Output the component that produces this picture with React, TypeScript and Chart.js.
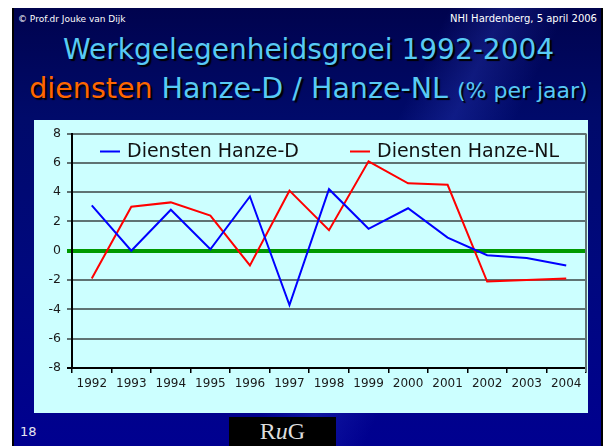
import React, { useEffect, useRef } from "react";
import { Chart, registerables } from "chart.js";

Chart.register(...registerables);

const categories = ["1992", "1993", "1994", "1995", "1996", "1997", "1998", "1999", "2000", "2001", "2002", "2003", "2004"];
const hanzeD = [3.1, 0.0, 2.8, 0.1, 3.7, -3.7, 4.2, 1.5, 2.9, 0.9, -0.3, -0.5, -1.0];
const hanzeNL = [-1.9, 3.0, 3.3, 2.4, -1.0, 4.1, 1.4, 6.1, 4.6, 4.5, -2.1, -2.0, -1.9];
const seriesNames = ["Diensten Hanze-D", "Diensten Hanze-NL"];
const yMin = -8;
const yMax = 8;
const yStep = 2;

const FONT = "'DejaVu Sans', Verdana, sans-serif";

const legendPlugin = {
  id: "insideLegend",
  afterDatasetsDraw(chart: any) {
    const { ctx, chartArea } = chart;
    const y = chartArea.top + 18;
    const items = [
      { x: chartArea.left + 28, color: "#0000ff", text: seriesNames[0] },
      { x: chartArea.left + 278, color: "#ff0000", text: seriesNames[1] },
    ];
    ctx.save();
    ctx.font = `19px ${FONT}`;
    ctx.textBaseline = "middle";
    items.forEach((it) => {
      ctx.strokeStyle = it.color;
      ctx.lineWidth = 2;
      ctx.beginPath();
      ctx.moveTo(it.x, y);
      ctx.lineTo(it.x + 20, y);
      ctx.stroke();
      ctx.fillStyle = "#111111";
      ctx.fillText(it.text, it.x + 27, y + 1);
    });
    // right border of plot
    ctx.strokeStyle = "#5f7373";
    ctx.lineWidth = 2;
    ctx.beginPath();
    ctx.moveTo(chartArea.right, chartArea.top);
    ctx.lineTo(chartArea.right, chartArea.bottom + 4);
    ctx.stroke();
    ctx.restore();
  },
};

function LineChart() {
  const ref = useRef<HTMLCanvasElement | null>(null);
  useEffect(() => {
    if (!ref.current) return;
    const chart = new Chart(ref.current, {
      type: "line",
      data: {
        labels: categories,
        datasets: [
          {
            label: seriesNames[0],
            data: hanzeD,
            borderColor: "#0000ff",
            borderWidth: 2,
            pointRadius: 0,
            tension: 0,
            fill: false,
          },
          {
            label: seriesNames[1],
            data: hanzeNL,
            borderColor: "#ff0000",
            borderWidth: 2,
            pointRadius: 0,
            tension: 0,
            fill: false,
          },
        ],
      },
      options: {
        animation: false,
        responsive: false,
        maintainAspectRatio: false,
        layout: { padding: { top: 11, right: 2, left: 0, bottom: 0 } },
        plugins: { legend: { display: false }, tooltip: { enabled: false } },
        scales: {
          x: {
            type: "category",
            offset: true,
            grid: {
              offset: true,
              drawOnChartArea: false,
              drawTicks: true,
              tickLength: 5,
              color: "#000000",
              lineWidth: 1.5,
            },
            border: { color: "#000000", width: 2 },
            ticks: {
              color: "#1a1a1a",
              font: { family: FONT, size: 12 },
              padding: 4,
              maxRotation: 0,
              autoSkip: false,
            },
            afterFit(scale: any) {
              scale.height = 45;
            },
          },
          y: {
            min: yMin,
            max: yMax,
            ticks: {
              stepSize: yStep,
              color: "#1a1a1a",
              font: { family: FONT, size: 12.5 },
              padding: 6,
            },
            grid: {
              tickLength: 5,
              color: (ctx: any) => {
                const v = ctx.tick && ctx.tick.value;
                if (v === 0) return "#009900";
                if (v === yMin) return "#000000";
                return "#5f7373";
              },
              lineWidth: (ctx: any) => {
                const v = ctx.tick && ctx.tick.value;
                if (v === 0) return 4;
                return 2;
              },
            },
            border: { color: "#000000", width: 2 },
            afterFit(scale: any) {
              scale.width = 38;
            },
          },
        },
      },
      plugins: [legendPlugin],
    } as any);
    return () => chart.destroy();
  }, []);
  return <canvas ref={ref} width={554} height={293} style={{ display: "block" }} />;
}

export default function App() {
  const titleColor = "#58caf4";
  const shadow = "2px 2px 1px #000000";
  return (
    <div
      style={{
        position: "absolute",
        left: 0,
        top: 0,
        width: 604,
        height: 446,
        background: "#ffffff",
        overflow: "hidden",
      }}
    >
      <div
        style={{
          position: "absolute",
          left: 12,
          top: 8,
          width: 591,
          height: 438,
          boxSizing: "border-box",
          borderLeft: "2px solid #000000",
          borderRight: "2px solid #000000",
          background:
            "linear-gradient(115deg, rgba(40,60,200,0) 55%, rgba(60,80,220,0.25) 62%, rgba(40,60,200,0) 70%), linear-gradient(180deg, #00034e 0%, #000a6a 25%, #00087e 60%, #000090 100%)",
          fontFamily: FONT,
        }}
      >
        <div style={{ position: "absolute", left: 4, top: 6, color: "#ffffff", fontSize: 9 }}>
          © Prof.dr Jouke van Dijk
        </div>
        <div style={{ position: "absolute", right: 4, top: 5, color: "#ffffff", fontSize: 10 }}>
          NHI Hardenberg, 5 april 2006
        </div>
        <div
          style={{
            position: "absolute",
            left: 0,
            width: 589,
            top: 22,
            textAlign: "center",
            color: titleColor,
            fontSize: 28,
            lineHeight: "39px",
            textShadow: shadow,
            whiteSpace: "nowrap",
          }}
        >
          <div>Werkgelegenheidsgroei 1992-2004</div>
          <div style={{ fontSize: 28.5 }}>
            <span style={{ color: "#ff6600" }}>diensten</span> Hanze-D / Hanze-NL{" "}
            <span style={{ fontSize: 22 }}>(% per jaar)</span>
          </div>
        </div>
        <div style={{ position: "absolute", left: 6, top: 416, color: "#e6e6f0", fontSize: 13 }}>18</div>
        <div
          style={{
            position: "absolute",
            left: 215,
            top: 409,
            width: 107,
            height: 29,
            background: "#000000",
            color: "#dddddd",
            fontFamily: "'Liberation Serif', 'DejaVu Serif', serif",
            fontSize: 24,
            lineHeight: "29px",
            textAlign: "center",
          }}
        >
          R<i>u</i>G
        </div>
      </div>
      <div
        style={{
          position: "absolute",
          left: 34,
          top: 120,
          width: 554,
          height: 293,
          background: "#ccffff",
        }}
      >
        <LineChart />
      </div>
    </div>
  );
}
